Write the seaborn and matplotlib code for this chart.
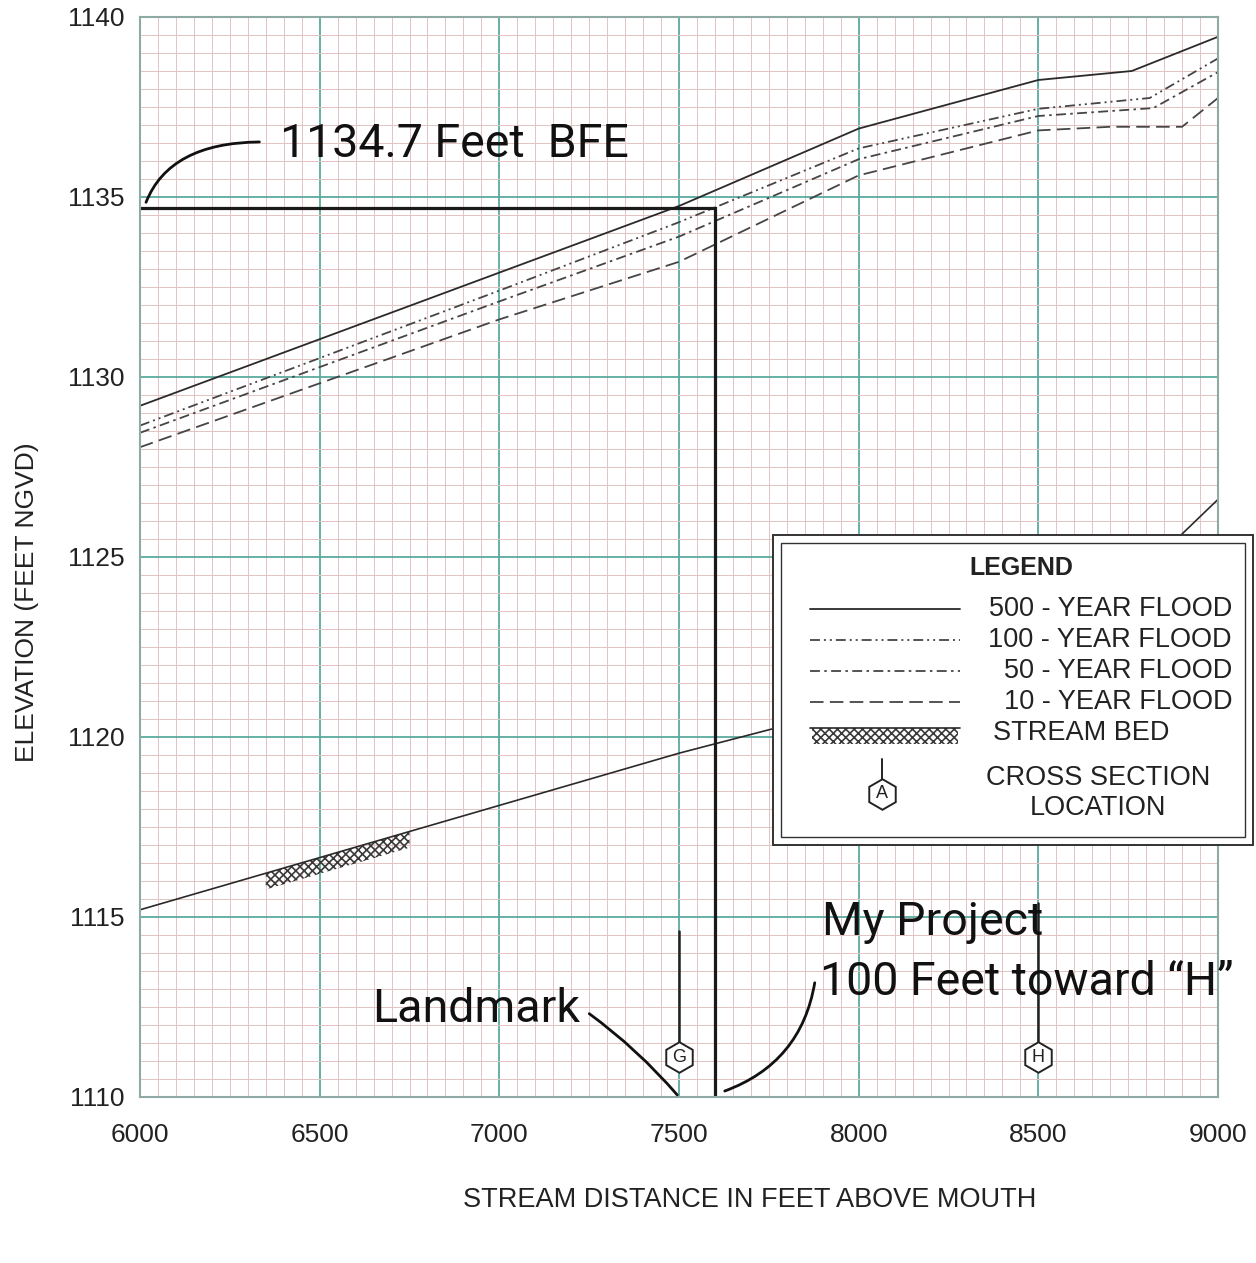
import matplotlib
matplotlib.use("Agg")
import matplotlib.pyplot as plt
from matplotlib.ticker import MultipleLocator
from matplotlib.patches import Rectangle
import numpy as np
import pandas as pd
import seaborn as sns

# Flood profiles (station in feet, elevation in feet NGVD)
station_500 = [6000, 7000, 7500, 8000, 8500, 8760, 9000]
elev_500 = [1129.2, 1132.9, 1134.75, 1136.9, 1138.25, 1138.5, 1139.45]
station_100 = [6000, 7000, 7500, 8000, 8500, 8810, 9000]
elev_100 = [1128.65, 1132.4, 1134.3, 1136.35, 1137.45, 1137.75, 1138.85]
station_50 = [6000, 7000, 7500, 8000, 8500, 8820, 9000]
elev_50 = [1128.45, 1132.1, 1133.9, 1136.05, 1137.25, 1137.47, 1138.47]
station_10 = [6000, 7000, 7500, 8000, 8500, 8700, 8900, 9000]
elev_10 = [1128.05, 1131.6, 1133.2, 1135.6, 1136.85, 1136.95, 1136.95, 1137.75]
station_bed = [6000, 6500, 7000, 7500, 8000, 8500, 8750, 9000]
elev_bed = [1115.2, 1116.65, 1118.1, 1119.55, 1120.85, 1122.5, 1124.2, 1126.6]

# Cross sections and project
xs_station = [7500, 8500]
xs_label = ["G", "H"]
xs_top = [1114.6, 1115.4]
xs_symbol_elev = 1111.1
project_station = 7600
bfe = 1134.7
bed_symbol_range = [6350, 6750]

x_ticks = [6000, 6500, 7000, 7500, 8000, 8500, 9000]
y_ticks = [1110, 1115, 1120, 1125, 1130, 1135, 1140]

W, H = 1256, 1263
sns.set_theme(style="white")
plt.rcParams["font.family"] = ["Liberation Sans", "DejaVu Sans"]
plt.rcParams["hatch.linewidth"] = 1.2
hand = ["Roboto", "DejaVu Sans"]

fig = plt.figure(figsize=(W / 100, H / 100), dpi=100)
ax = fig.add_axes([140 / W, 1 - 1097 / H, 1078 / W, 1080 / H])

# graph paper
ax.xaxis.set_minor_locator(MultipleLocator(50))
ax.yaxis.set_minor_locator(MultipleLocator(0.5))
ax.grid(which="minor", color="#e2c4c2", lw=0.72)
ax.grid(which="major", color="#5aaa9f", lw=1.3)
ax.set_axisbelow(True)
ax.tick_params(which="both", length=0)
for s in ax.spines.values():
    s.set_color("#8fa9a4")
    s.set_linewidth(1.5)

# flood profiles
line_col = "#2a2a2a"
dash_col = "#454545"
sns.lineplot(x=station_500, y=elev_500, ax=ax, color=line_col, lw=1.3, errorbar=None)
sns.lineplot(x=station_100, y=elev_100, ax=ax, color=dash_col, lw=1.3, errorbar=None,
             linestyle=(0, (5.5, 2.2, 1.1, 2.2, 1.1, 2.2)))
sns.lineplot(x=station_50, y=elev_50, ax=ax, color=dash_col, lw=1.3, errorbar=None,
             linestyle=(0, (5.5, 2.4, 1.4, 2.4)))
sns.lineplot(x=station_10, y=elev_10, ax=ax, color=dash_col, lw=1.3, errorbar=None,
             linestyle=(0, (7.5, 3.5)))
sns.lineplot(x=station_bed, y=elev_bed, ax=ax, color=line_col, lw=1.2, errorbar=None)

# stream bed symbol
xb = np.linspace(bed_symbol_range[0], bed_symbol_range[1], 30)
yb = np.interp(xb, station_bed, elev_bed)
ax.fill_between(xb, yb - 0.45, yb, facecolor="none", edgecolor="#3a3a3a", hatch="xxxx", lw=0)

# BFE and project lines
ax.plot([6000, project_station, project_station], [bfe, bfe, 1110], color="#1a1a1a", lw=2.3,
        solid_joinstyle="miter")

# cross section markers
for st, lab, top in zip(xs_station, xs_label, xs_top):
    ax.plot([st, st], [xs_symbol_elev, top], color="#222222", lw=1.8)
    ax.plot(st, xs_symbol_elev, marker="h", ms=22, mfc="white", mec="#222222", mew=1.4)
    ax.text(st, xs_symbol_elev, lab, ha="center", va="center", fontsize=13, color="#222222")

# handwritten notes
ax.text(6390, 1136.11, "1134.7 Feet  BFE", fontsize=33.5, family=hand, color="#111111", va="baseline")
ax.text(6646, 1112.08, "Landmark", fontsize=33.5, family=hand, color="#111111", va="baseline")
ax.text(7898, 1114.5, "My Project", fontsize=33.5, family=hand, color="#111111", va="baseline")
ax.text(7893, 1112.83, "100 Feet toward \u201cH\u201d", fontsize=33.5, family=hand, color="#111111",
        va="baseline")
ax.annotate("", xy=(6014, 1134.78), xytext=(6340, 1136.53),
            arrowprops=dict(arrowstyle="-", color="#111111", lw=2,
                            connectionstyle="angle3,angleA=0,angleB=70"))
ax.annotate("", xy=(7500, 1110.0), xytext=(7244, 1112.36),
            arrowprops=dict(arrowstyle="-", color="#111111", lw=2,
                            connectionstyle="arc3,rad=-0.06"))
ax.annotate("", xy=(7620, 1110.14), xytext=(7879, 1113.25),
            arrowprops=dict(arrowstyle="-", color="#111111", lw=2,
                            connectionstyle="arc3,rad=-0.3"))

ax.set_xlim(6000, 9000)
ax.set_ylim(1110, 1140)
ax.set_xticks(x_ticks)
ax.set_yticks(y_ticks)
ax.tick_params(axis="x", labelsize=19, labelcolor="#222222", pad=19)
ax.tick_params(axis="y", labelsize=19, labelcolor="#222222", pad=11)
ax.set_xlabel("STREAM DISTANCE IN FEET ABOVE MOUTH", fontsize=19.5, color="#222222")
ax.set_ylabel("ELEVATION (FEET NGVD)", fontsize=19, color="#222222")
ax.xaxis.set_label_coords(0.566, -0.083)
ax.yaxis.set_label_coords(-0.094, 0.458)

# legend box
lax = fig.add_axes([773 / W, 1 - 845 / H, 480 / W, 310 / H])
lax.set_xlim(0, 480)
lax.set_ylim(310, 0)
lax.axis("off")
lax.add_patch(Rectangle((0, 0), 480, 310, facecolor="white", edgecolor="#333333", lw=1.4, clip_on=False))
lax.add_patch(Rectangle((8, 8), 464, 294, facecolor="none", edgecolor="#333333", lw=1.0))
lax.text(248, 33, "LEGEND", ha="center", va="center", fontsize=18, fontweight="bold", color="#222222")

legend_rows = [
    ("500 - YEAR FLOOD", line_col, "-"),
    ("100 - YEAR FLOOD", dash_col, (0, (5.5, 2.2, 1.1, 2.2, 1.1, 2.2))),
    ("50 - YEAR FLOOD", dash_col, (0, (5.5, 2.4, 1.4, 2.4))),
    ("10 - YEAR FLOOD", dash_col, (0, (7.5, 3.5))),
]
for i, (lab, col, ls) in enumerate(legend_rows):
    yy = 74 + 31 * i
    lax.plot([37, 187], [yy, yy], color=col, lw=1.3, linestyle=ls)
    lax.text(459, yy, lab, ha="right", va="center", fontsize=19.5, color="#222222")

lax.plot([37, 187], [193, 193], color=line_col, lw=1.2)
lax.add_patch(Rectangle((39, 193), 146, 16, facecolor="none", edgecolor="#3a3a3a", hatch="xxxx", lw=0))
lax.text(220, 198, "STREAM BED", ha="left", va="center", fontsize=19.5, color="#222222")

lax.plot([109, 109], [224, 248], color="#222222", lw=1.4)
lax.plot(109, 259, marker="h", ms=22, mfc="white", mec="#222222", mew=1.4)
lax.text(109, 259, "A", ha="center", va="center", fontsize=13, color="#222222")
lax.text(325, 243, "CROSS SECTION", ha="center", va="center", fontsize=19.5, color="#222222")
lax.text(325, 273, "LOCATION", ha="center", va="center", fontsize=19.5, color="#222222")

fig.savefig("out.png", dpi=100, facecolor="white")
